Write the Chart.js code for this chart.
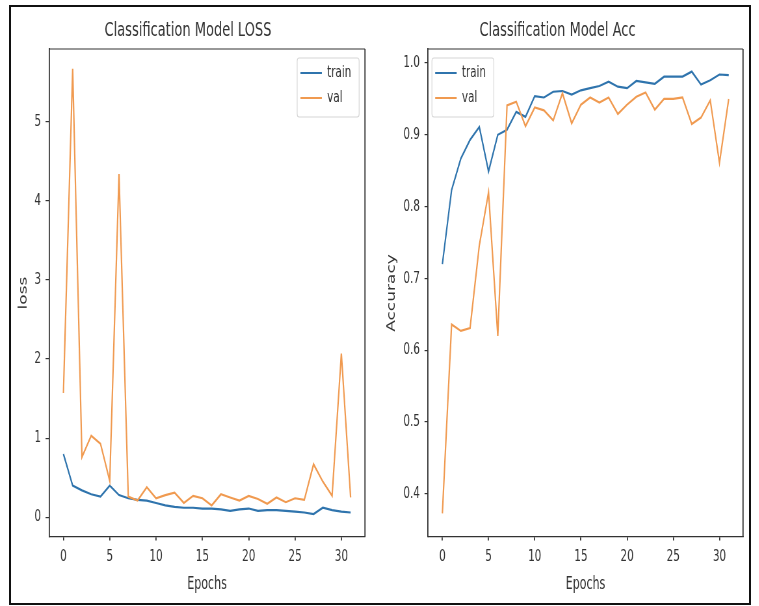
<!DOCTYPE html>
<html>
<head>
<meta charset="utf-8">
<title>Classification Model LOSS / Acc</title>
<script src="https://cdn.jsdelivr.net/npm/chart.js@4.4.1/dist/chart.umd.min.js"></script>
<style>
  html, body { margin: 0; padding: 0; background: #fff; }
  #frame { position: absolute; left: 9px; top: 5px; width: 742px; height: 600px;
           border: 2px solid #111; box-sizing: border-box; }
  canvas { position: absolute; top: 7px; }
</style>
</head>
<body>
<div id="frame"></div>
<canvas id="lossChart"></canvas>
<canvas id="accChart"></canvas>
<script>
// per-epoch history of the classifier
var epochs = [0, 1, 2, 3, 4, 5, 6, 7, 8, 9, 10, 11, 12, 13, 14, 15,
              16, 17, 18, 19, 20, 21, 22, 23, 24, 25, 26, 27, 28, 29, 30, 31];

var lossTrain = [0.80, 0.40, 0.34, 0.29, 0.26, 0.40, 0.28, 0.24, 0.22, 0.21, 0.18, 0.15, 0.13, 0.12, 0.12, 0.11,
                 0.11, 0.10, 0.08, 0.10, 0.11, 0.08, 0.09, 0.09, 0.08, 0.07, 0.06, 0.04, 0.12, 0.09, 0.07, 0.06];
var lossVal = [1.57, 5.67, 0.76, 1.03, 0.93, 0.46, 4.34, 0.26, 0.21, 0.38, 0.24, 0.28, 0.31, 0.18, 0.27, 0.24,
               0.15, 0.29, 0.25, 0.21, 0.27, 0.23, 0.17, 0.25, 0.19, 0.24, 0.22, 0.67, 0.45, 0.27, 2.07, 0.25];

var accTrain = [0.720, 0.823, 0.867, 0.893, 0.911, 0.849, 0.900, 0.907, 0.932, 0.925, 0.954, 0.952, 0.960, 0.961, 0.956, 0.962,
                0.965, 0.968, 0.974, 0.967, 0.965, 0.975, 0.973, 0.971, 0.981, 0.981, 0.981, 0.988, 0.970, 0.976, 0.984, 0.983];
var accVal = [0.373, 0.636, 0.627, 0.631, 0.746, 0.820, 0.620, 0.941, 0.946, 0.912, 0.938, 0.934, 0.920, 0.958, 0.916, 0.942,
              0.952, 0.945, 0.952, 0.929, 0.942, 0.953, 0.959, 0.935, 0.950, 0.950, 0.952, 0.915, 0.924, 0.948, 0.861, 0.950];

var epochTicks = [0, 5, 10, 15, 20, 25, 30];
var lossTicks = [0, 1, 2, 3, 4, 5];
var accTicks = [0.4, 0.5, 0.6, 0.7, 0.8, 0.9, 1.0];

var TRAIN_COLOR = '#2f74ad';
var VAL_COLOR = '#f09a50';
var INK = '#333';

// the figure is squeezed sideways: draw wide, show narrow
var SX = 0.65;
var HEIGHT = 596;

Chart.defaults.font.family = '"DejaVu Sans", sans-serif';
Chart.defaults.color = INK;

// matplotlib-like spines on the top and right of the plot
var spines = {
  id: 'spines',
  afterDatasetsDraw: function (chart) {
    var a = chart.chartArea, ctx = chart.ctx;
    ctx.save();
    ctx.strokeStyle = INK;
    ctx.lineWidth = 1.2;
    ctx.beginPath(); ctx.moveTo(a.left, a.top); ctx.lineTo(a.right, a.top); ctx.stroke();
    ctx.lineWidth = 1.8;
    ctx.beginPath(); ctx.moveTo(a.right, a.top); ctx.lineTo(a.right, a.bottom); ctx.stroke();
    ctx.restore();
  }
};

// boxed legend sitting inside the plot corner
var boxLegend = {
  id: 'boxLegend',
  afterDraw: function (chart, args, opts) {
    var ctx = chart.ctx, area = chart.chartArea, sets = chart.data.datasets;
    ctx.save();
    ctx.font = '16px "DejaVu Sans"';
    var textW = 0;
    sets.forEach(function (d) { textW = Math.max(textW, ctx.measureText(d.label).width); });
    var w = 46 + textW + 12, h = 59;
    var x = opts.side === 'left' ? area.left + 6 : area.right - 9 - w;
    var y = area.top + 9;
    ctx.fillStyle = 'rgba(255,255,255,0.85)';
    ctx.strokeStyle = '#d6d6d6';
    ctx.lineWidth = 1.2;
    ctx.beginPath();
    ctx.roundRect(x, y, w, h, 3);
    ctx.fill();
    ctx.stroke();
    sets.forEach(function (d, i) {
      var cy = y + 15 + i * 25;
      ctx.strokeStyle = d.borderColor;
      ctx.lineWidth = d.borderWidth;
      ctx.beginPath(); ctx.moveTo(x + 5, cy); ctx.lineTo(x + 38, cy); ctx.stroke();
      ctx.fillStyle = INK;
      ctx.textBaseline = 'middle';
      ctx.fillText(d.label, x + 46, cy);
    });
    ctx.restore();
  }
};

function makeChart(id, cfg) {
  var canvas = document.getElementById(id);
  canvas.style.left = cfg.cssLeft + 'px';
  canvas.style.width = cfg.cssWidth + 'px';
  canvas.style.height = HEIGHT + 'px';
  canvas.width = Math.round(cfg.cssWidth / SX);
  canvas.height = HEIGHT;

  return new Chart(canvas, {
    type: 'line',
    data: {
      labels: epochs,
      datasets: [
        { label: 'train', data: cfg.train, borderColor: TRAIN_COLOR, borderWidth: 2.2, order: 1 },
        { label: 'val', data: cfg.val, borderColor: VAL_COLOR, borderWidth: 2.2, order: 0 }
      ]
    },
    options: {
      responsive: false,
      animation: false,
      events: [],
      elements: { point: { radius: 0 }, line: { tension: 0 } },
      layout: { padding: { left: 0, top: 0, bottom: 0, right: cfg.padRight } },
      plugins: {
        legend: { display: false },
        tooltip: { enabled: false },
        title: {
          display: true, text: cfg.title, color: INK,
          font: { size: 20, weight: 'normal' },
          padding: { top: 12, bottom: 6 }
        },
        boxLegend: { side: cfg.legendSide }
      },
      scales: {
        x: {
          type: 'linear', min: -1.55, max: 32.55,
          afterBuildTicks: function (s) { s.ticks = epochTicks.map(function (v) { return { value: v }; }); },
          afterFit: function (s) { s.height = 66; },
          grid: { drawOnChartArea: false, drawTicks: true, tickLength: 3.5, color: INK, lineWidth: 1.8 },
          border: { display: true, color: INK, width: 1.2 },
          ticks: { font: { size: 16 }, padding: 7, maxRotation: 0, color: INK },
          title: { display: true, text: 'Epochs', font: { size: 17 }, color: INK, padding: { top: 4, bottom: 8.5 } }
        },
        y: {
          min: cfg.yMin, max: cfg.yMax,
          afterBuildTicks: function (s) { s.ticks = cfg.yTicks.map(function (v) { return { value: v }; }); },
          afterFit: function (s) { s.width = cfg.yWidth; },
          grid: { drawOnChartArea: false, drawTicks: true, tickLength: 5.4, color: INK, lineWidth: 1.2 },
          border: { display: true, color: INK, width: 1.8 },
          ticks: { font: { size: 16 }, padding: 7, color: INK, callback: cfg.tickFmt },
          title: { display: true, text: cfg.yTitle, font: { size: 17 }, color: INK, padding: { top: cfg.yTitlePad, bottom: 0 } }
        }
      }
    },
    plugins: [spines, boxLegend]
  });
}

makeChart('lossChart', {
  cssLeft: 11, cssWidth: 361, padRight: 10.8, yWidth: 58.5, yTitlePad: 9,
  title: 'Classification Model LOSS', yTitle: 'loss', legendSide: 'right',
  train: lossTrain, val: lossVal, yMin: -0.25, yMax: 5.92, yTicks: lossTicks,
  tickFmt: function (v) { return String(v); }
});

makeChart('accChart', {
  cssLeft: 372, cssWidth: 377, padRight: 9.2, yWidth: 86.2, yTitlePad: 20.6,
  title: 'Classification Model Acc', yTitle: 'Accuracy', legendSide: 'left',
  train: accTrain, val: accVal, yMin: 0.34, yMax: 1.0195, yTicks: accTicks,
  tickFmt: function (v) { return v.toFixed(1); }
});
</script>
</body>
</html>
